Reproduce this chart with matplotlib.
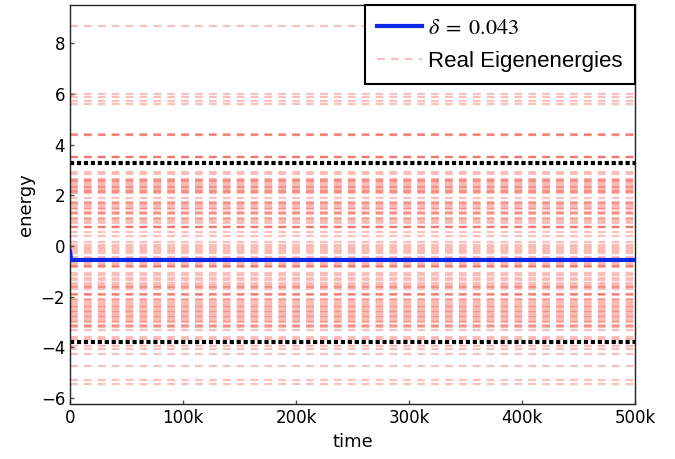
import numpy as np
import matplotlib
matplotlib.use("Agg")
import matplotlib.pyplot as plt
from matplotlib.ticker import FuncFormatter

# ------------------ data ------------------
# real eigenenergies (duplicates = overlapping / near-degenerate levels)
eigenenergies = [
    8.68,
    5.98, 5.87, 5.73, 5.59,
    4.43, 4.37, 4.40,
    3.52, 3.50, 3.51,
    2.92, 2.86,
    2.66, 2.60, 2.55, 2.52, 2.45, 2.38, 2.34, 2.30, 2.22, 2.18, 2.15, 2.09,
    1.90,
    1.74, 1.70, 1.65, 1.56, 1.50, 1.46, 1.36, 1.30, 1.26, 1.12, 1.06, 1.00, 0.90,
    0.76, 0.75, 0.74,
    0.55, 0.40,
    0.15, 0.05,
    -0.05, -0.10, -0.18, -0.26,
    -0.42, -0.50, -0.62,
    -0.72, -0.78, -0.82, -0.80,
    -1.05, -1.15, -1.25,
    -1.35, -1.45,
    -1.55, -1.60, -1.70, -1.62,
    -1.90, -1.91, -1.92,
    -2.10, -2.15, -2.20, -2.30, -2.35, -2.40, -2.50, -2.55, -2.60, -2.70,
    -2.75, -2.80, -2.90, -2.95, -3.00, -3.10, -3.15, -3.20, -3.30,
    -3.60, -3.68,
    -3.95, -4.05,
    -4.25,
    -4.72,
    -5.27,
    -5.45,
]

# energy trajectory for delta = 0.043
time = [0, 1000, 100000, 200000, 300000, 400000, 500000]
energy = [-0.22, -0.55, -0.55, -0.55, -0.55, -0.55, -0.55]
delta = 0.043

# black dotted reference levels
ref_levels = [3.26, -3.79]

t_min, t_max = 0, 500000

# ------------------ plotting ------------------
plt.rcParams['lines.scale_dashes'] = False
plt.rcParams['mathtext.fontset'] = 'stix'

fig = plt.figure(figsize=(6.75, 4.59), dpi=100)
ax = fig.add_axes([0.1037, 0.119, 0.837, 0.8695])

first = True
for e in eigenenergies:
    ax.plot([t_min, t_max], [e, e], color='#f03020', alpha=0.3, lw=1.6,
            dashes=(5.6, 4.4), label="Real Eigenenergies" if first else None)
    first = False

for e in ref_levels:
    ax.plot([t_min, t_max], [e, e], color='black', lw=3, dashes=(3, 2))

ax.plot(time, energy, color='#0a28e6', lw=3, label=r"$\delta\;=\;%.3f$" % delta, zorder=5)

ax.set_xlim(t_min, t_max)
ax.set_ylim(-6.25, 9.5)
ax.set_yticks([-6, -4, -2, 0, 2, 4, 6, 8])
ax.set_xticks([0, 100000, 200000, 300000, 400000, 500000])
ax.xaxis.set_major_formatter(FuncFormatter(lambda v, p: "0" if v == 0 else "%dk" % (v / 1000)))

ax.tick_params(direction='in', length=3, width=1, color='#555555', labelsize=12,
               top=False, right=False)
for s in ax.spines.values():
    s.set_color('#222222')
    s.set_linewidth(1)

ax.set_xlabel("time", fontsize=13)
ax.set_ylabel("energy", fontsize=13)

handles, labels = ax.get_legend_handles_labels()
leg = ax.legend(handles[::-1], labels[::-1], loc='upper right',
                fancybox=False, borderaxespad=0, framealpha=1,
                borderpad=0.55, handletextpad=0.3, labelspacing=0.55,
                prop={'family': ['Liberation Sans', 'DejaVu Sans'], 'size': 16})
leg.get_frame().set_edgecolor('black')
leg.get_frame().set_linewidth(1.5)

fig.savefig("out.png", dpi=100)
